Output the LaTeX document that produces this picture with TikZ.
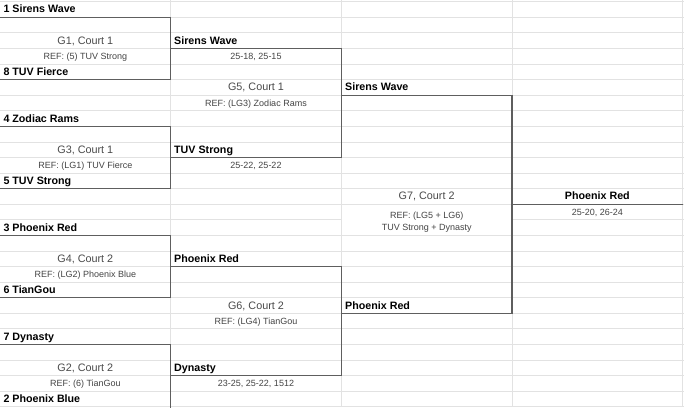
\documentclass[tikz,border=0pt]{standalone}
\usepackage{fontspec}
\setmainfont{Liberation Sans}
\definecolor{gridc}{HTML}{E2E2E2}
\definecolor{brkc}{HTML}{5E5E5E}
\definecolor{gcol}{HTML}{4A4A4A}
\definecolor{rcol}{HTML}{444444}
\newcommand\Y[1]{(1.7+15.58*(#1))}
\newcommand\B[1]{(1.7+15.58*(#1)-4.3)}
\begin{document}
\begin{tikzpicture}[x=1pt,y=-1pt,
  gridline/.style={draw=gridc, line width=0.8pt},
  brk/.style={draw=brkc, line width=1.2pt, line cap=rect},
  team/.style={anchor=base west, inner sep=0pt, font=\fontsize{10.7}{12}\selectfont\bfseries, text=black},
  teamc/.style={anchor=base, inner sep=0pt, font=\fontsize{10.7}{12}\selectfont\bfseries, text=black},
  game/.style={anchor=base, inner sep=0pt, font=\fontsize{10.8}{12}\selectfont, text=gcol},
  ref/.style={anchor=base, inner sep=0pt, font=\fontsize{9}{11}\selectfont, text=rcol},
  score/.style={anchor=base, inner sep=0pt, font=\fontsize{9}{11}\selectfont, text=rcol}]
\useasboundingbox (0,0) rectangle (684,407);
\fill[white] (0,0) rectangle (684,407);
% grid
\foreach \k in {0,...,13,15,16,...,26}{
  \draw[gridline] (0,{\Y{\k}}) -- (684,{\Y{\k}});
}
\draw[gridline] (0,{\Y{14}}) -- (341.3,{\Y{14}});
\draw[gridline] (512,{\Y{14}}) -- (684,{\Y{14}});
\foreach \x in {170.7,341.3,512,682.7}{
  \draw[gridline] (\x,0) -- (\x,407);
}
% column coordinates
\def\cA{170.7}\def\cB{341.3}\def\cC{512}\def\cD{682.7}
% first round brackets
\draw[brk] (0,{\Y{1}}) -- (\cA,{\Y{1}}) -- (\cA,{\Y{5}}) -- (0,{\Y{5}});
\draw[brk] (0,{\Y{8}}) -- (\cA,{\Y{8}}) -- (\cA,{\Y{12}}) -- (0,{\Y{12}});
\draw[brk] (0,{\Y{15}}) -- (\cA,{\Y{15}}) -- (\cA,{\Y{19}}) -- (0,{\Y{19}});
\draw[brk] (0,{\Y{22}}) -- (\cA,{\Y{22}}) -- (\cA,408);
% semifinals
\draw[brk] (\cA,{\Y{3}}) -- (\cB,{\Y{3}}) -- (\cB,{\Y{10}}) -- (\cA,{\Y{10}});
\draw[brk] (\cA,{\Y{17}}) -- (\cB,{\Y{17}}) -- (\cB,{\Y{24}}) -- (\cA,{\Y{24}});
% final
\draw[brk] (\cB,{\Y{6}}) -- (\cC,{\Y{6}}) -- (\cC,{\Y{20}}) -- (\cB,{\Y{20}});
\draw[brk] (\cC,{\Y{13}}) -- (\cD,{\Y{13}});
% column A
\node[team] (t1) at (3.3,{\B{1}}) {1 Sirens Wave};
\node[game] (g1) at (85.35,{\B{3}}) {G1, Court 1};
\node[ref] (r1) at (85.35,{\B{4}}) {REF: (5) TUV Strong};
\node[team] (t8) at (3.3,{\B{5}}) {8 TUV Fierce};
\node[team] (t4) at (3.3,{\B{8}}) {4 Zodiac Rams};
\node[game] (g3) at (85.35,{\B{10}}) {G3, Court 1};
\node[ref] (r3) at (85.35,{\B{11}}) {REF: (LG1) TUV Fierce};
\node[team] (t5) at (3.3,{\B{12}}) {5 TUV Strong};
\node[team] (t3) at (3.3,{\B{15}}) {3 Phoenix Red};
\node[game] (g4) at (85.35,{\B{17}}) {G4, Court 2};
\node[ref] (r4) at (85.35,{\B{18}}) {REF: (LG2) Phoenix Blue};
\node[team] (t6) at (3.3,{\B{19}}) {6 TianGou};
\node[team] (t7) at (3.3,{\B{22}}) {7 Dynasty};
\node[game] (g2) at (85.35,{\B{24}}) {G2, Court 2};
\node[ref] (r2) at (85.35,{\B{25}}) {REF: (6) TianGou};
\node[team] (t2) at (3.3,{\B{26}}) {2 Phoenix Blue};
% column B
\node[team] (w1) at (174,{\B{3}}) {Sirens Wave};
\node[score] (s1) at (256,{\B{4}}) {25-18, 25-15};
\node[game] (g5) at (256,{\B{6}}) {G5, Court 1};
\node[ref] (r5) at (256,{\B{7}}) {REF: (LG3) Zodiac Rams};
\node[team] (w3) at (174,{\B{10}}) {TUV Strong};
\node[score] (s3) at (256,{\B{11}}) {25-22, 25-22};
\node[team] (w4) at (174,{\B{17}}) {Phoenix Red};
\node[game] (g6) at (256,{\B{20}}) {G6, Court 2};
\node[ref] (r6) at (256,{\B{21}}) {REF: (LG4) TianGou};
\node[team] (w2) at (174,{\B{24}}) {Dynasty};
\node[score] (s2) at (256,{\B{25}}) {23-25, 25-22, 1512};
% column C
\node[team] (w5) at (345,{\B{6}}) {Sirens Wave};
\node[game] (g7) at (426.65,{\B{13}}) {G7, Court 2};
\node[ref] (r7a) at (426.65,218) {REF: (LG5 + LG6)};
\node[ref] (r7b) at (426.65,230) {TUV Strong + Dynasty};
\node[team] (w6) at (345,{\B{20}}) {Phoenix Red};
% column D
\node[teamc] (champ) at (597.35,{\B{13}}) {Phoenix Red};
\node[score] (s7) at (597.35,{\B{14}}) {25-20, 26-24};
\end{tikzpicture}
\end{document}
